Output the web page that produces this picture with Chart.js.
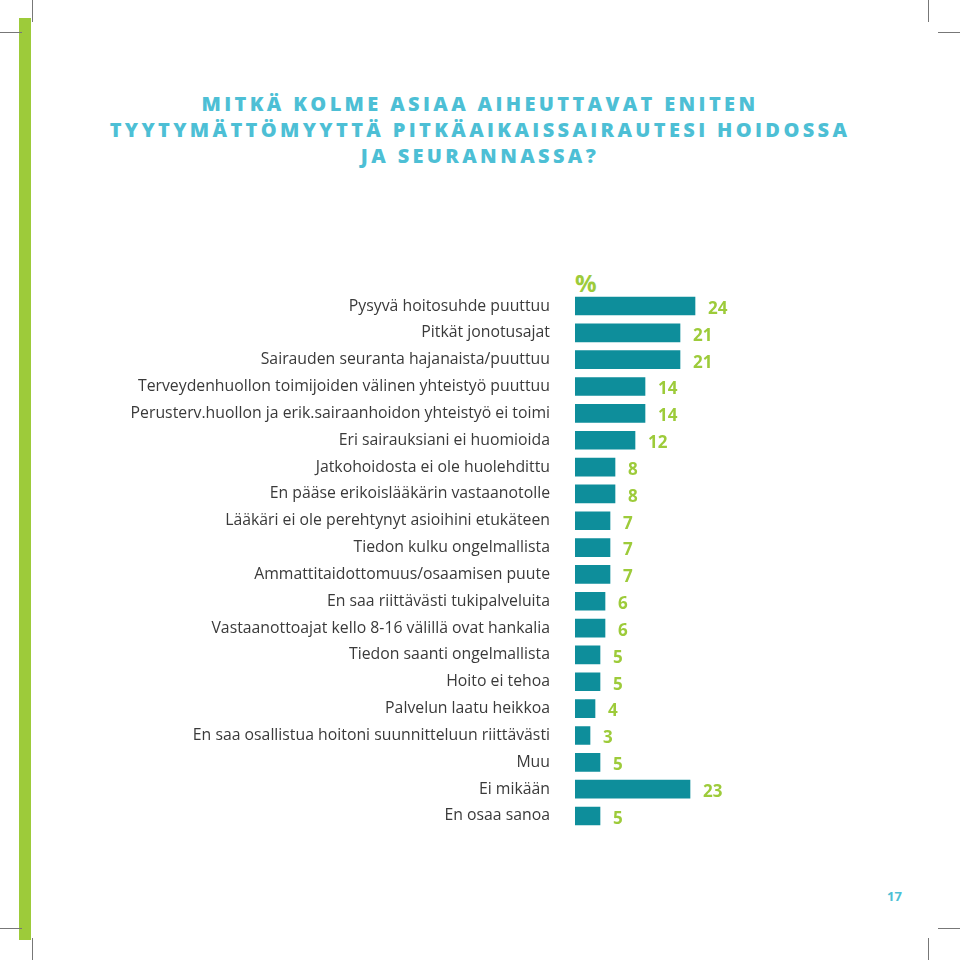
<!DOCTYPE html>
<html>
<head>
<meta charset="utf-8">
<script src="https://cdn.jsdelivr.net/npm/chart.js@4"></script>
<style>
    body { margin: 0; background: #fff; }
    #page { position: relative; width: 960px; height: 960px; overflow: hidden; font-family: "Open Sans", sans-serif; }
    #chart { position: absolute; left: 0; top: 0; }
    .strip { position: absolute; left: 19px; top: 18px; width: 12px; height: 922px; background: #9dcb3a; }
    .mark { position: absolute; background: #777; }
    .title { position: absolute; left: 0; width: 960px; top: 91px; text-align: center; color: #4dbfd5;
             font-weight: 800; font-size: 20px; letter-spacing: 3.35px; line-height: 26px; }
    .pct { position: absolute; left: 575px; top: 266px; color: #9dcb3a; font-weight: 700; font-size: 24px; }
    .pageno { position: absolute; left: 887px; top: 887px; color: #4dbfd5; font-weight: 700; font-size: 13px; }
</style>
</head>
<body>
<div id="page">
    <div class="strip"></div>
    <div class="mark" style="left:32px;top:0;width:1px;height:22px"></div>
    <div class="mark" style="left:0;top:32px;width:22px;height:1px"></div>
    <div class="mark" style="left:928px;top:0;width:1px;height:22px"></div>
    <div class="mark" style="left:938px;top:32px;width:22px;height:1px"></div>
    <div class="mark" style="left:0;top:928px;width:22px;height:1px"></div>
    <div class="mark" style="left:32px;top:938px;width:1px;height:22px"></div>
    <div class="mark" style="left:938px;top:928px;width:22px;height:1px"></div>
    <div class="mark" style="left:928px;top:938px;width:1px;height:22px"></div>
    <div class="title">MITKÄ KOLME ASIAA AIHEUTTAVAT ENITEN<br>TYYTYMÄTTÖMYYTTÄ PITKÄAIKAISSAIRAUTESI HOIDOSSA<br>JA SEURANNASSA?</div>
    <div class="pct">%</div>
    <div class="pageno">17</div>
    <canvas id="chart" width="960" height="960"></canvas>
</div>
<script>
const categories = [
    'Pysyvä hoitosuhde puuttuu',
    'Pitkät jonotusajat',
    'Sairauden seuranta hajanaista/puuttuu',
    'Terveydenhuollon toimijoiden välinen yhteistyö puuttuu',
    'Perusterv.huollon ja erik.sairaanhoidon yhteistyö ei toimi',
    'Eri sairauksiani ei huomioida',
    'Jatkohoidosta ei ole huolehdittu',
    'En pääse erikoislääkärin vastaanotolle',
    'Lääkäri ei ole perehtynyt asioihini etukäteen',
    'Tiedon kulku ongelmallista',
    'Ammattitaidottomuus/osaamisen puute',
    'En saa riittävästi tukipalveluita',
    'Vastaanottoajat kello 8-16 välillä ovat hankalia',
    'Tiedon saanti ongelmallista',
    'Hoito ei tehoa',
    'Palvelun laatu heikkoa',
    'En saa osallistua hoitoni suunnitteluun riittävästi',
    'Muu',
    'Ei mikään',
    'En osaa sanoa'
];
const values = [24, 21, 21, 14, 14, 12, 8, 8, 7, 7, 7, 6, 6, 5, 5, 4, 3, 5, 23, 5];

// green value numbers just right of each bar end
const valueLabels = {
    id: 'valueLabels',
    afterDatasetsDraw(chart) {
        const ctx = chart.ctx;
        const meta = chart.getDatasetMeta(0);
        ctx.save();
        ctx.fillStyle = '#9dcb3a';
        ctx.font = 'bold 17px "Open Sans"';
        ctx.textAlign = 'left';
        ctx.textBaseline = 'middle';
        meta.data.forEach((bar, i) => {
            ctx.fillText(values[i], bar.x + 13, bar.y + 3);
        });
        ctx.restore();
    }
};

const ctx = document.getElementById('chart').getContext('2d');
const chart = new Chart(ctx, {
    type: 'bar',
    data: {
        labels: categories,
        datasets: [{
            data: values,
            backgroundColor: '#0e8e9b',
            barThickness: 18
        }]
    },
    options: {
        indexAxis: 'y',
        responsive: false,
        animation: false,
        layout: { padding: { top: 292.6, bottom: 130.6, left: 0, right: 0 } },
        plugins: {
            legend: { display: false },
            tooltip: { enabled: false }
        },
        scales: {
            x: { display: false, min: 0, max: 77 },
            y: {
                grid: { display: false, drawTicks: false },
                border: { display: false },
                ticks: {
                    color: '#3a3a3a',
                    padding: 25,
                    font: { family: 'Open Sans', size: 15.8 }
                },
                afterFit(scale) { scale.width = 575; }
            }
        }
    },
    plugins: [valueLabels]
});
</script>
</body>
</html>
